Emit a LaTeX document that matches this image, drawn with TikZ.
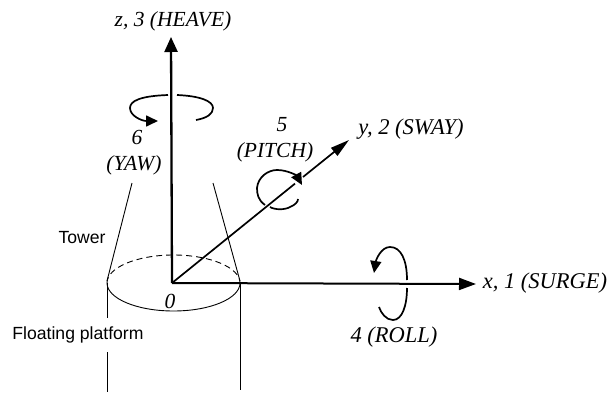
\documentclass[tikz,border=0pt]{standalone}
\usepackage{fontspec}
\setmainfont{Liberation Serif}
\setsansfont{Liberation Sans}
\usetikzlibrary{arrows.meta}
\tikzset{
 zaxis/.style={line width=2.3pt,-{Triangle[length=15pt,width=13pt]}},
 xaxis/.style={line width=2pt,-{Triangle[length=17pt,width=12pt]}},
 yaxis/.style={line width=1.7pt},
 yaxishead/.style={line width=1.7pt,-{Triangle[length=19pt,width=10pt]}},
 thin line/.style={line width=0.9pt},
 rot/.style={line width=1.7pt},
 rothead/.style={line width=1.7pt,-{Triangle[length=12pt,width=11pt]}},
 lab/.style={font=\itshape\fontsize{21.5}{23}\selectfont,inner sep=0pt},
 labw/.style={font=\itshape\fontsize{22.5}{24}\selectfont,inner sep=0pt},
 slab/.style={font=\sffamily\fontsize{17.6}{20}\selectfont,inner sep=0pt}
}
\begin{document}
\begin{tikzpicture}[x=1pt,y=-1pt]
\useasboundingbox (0,0) rectangle (610,393);
\coordinate (O) at (172,283);
\coordinate (zt) at (171,37);
\coordinate (xt) at (476,284);
\coordinate (yt) at (349,140);
\coordinate (g1) at (295,183.6);
\coordinate (g2) at (303,177);
% platform
\draw[thin line] (107,283) arc[start angle=180,end angle=360,x radius=66.5,y radius=-28];
\draw[thin line,dash pattern=on 6pt off 4pt] (107,283) arc[start angle=180,end angle=0,x radius=66.5,y radius=-28];
\coordinate (tl) at (132,183); \coordinate (bl) at (107,281);
\coordinate (tr) at (213,183); \coordinate (br) at (240,281);
\draw[thin line] (tl)--(bl);
\draw[thin line] (tr)--(br);
\draw[thin line] (107,283)--(107,318) (107,352)--(107,392);
\draw[thin line] (240,283)--(240,390);
% axes
\draw[zaxis] (O)--(zt);
\draw[xaxis] (O)--(xt);
\draw[yaxis] (O)--(g1);
\draw[yaxishead] (g2)--(yt);
% yaw
\draw[rothead] (168,95) .. controls (140,96) and (130,101) .. (130,108) .. controls (130,116) and (142,121) .. (158,121);
\draw[rot] (177,95) .. controls (200,96) and (213,101) .. (213,108) .. controls (213,114) and (207,118) .. (196,120);
% pitch
\draw[rothead] (265,205) .. controls (258,200) and (257,194) .. (257,188) .. controls (258,177) and (268,170) .. (277,170) .. controls (288,170) and (297,176) .. (302,185);
\draw[rot] (270,207) .. controls (275,210) and (285,210) .. (290,207) .. controls (295,205) and (298,202) .. (298,199);
% roll
\draw[rothead] (407,280) .. controls (407,260) and (401,247) .. (390,247) .. controls (381,247) and (376,260) .. (374,273);
\draw[rot] (407,288) .. controls (407,306) and (402,320) .. (393,320) .. controls (386,320) and (381,313) .. (379,307);
% labels
\node[lab] (zl) at (173,21) {z, 3 (HEAVE)};
\node[labw] (yl) at (411,129) {y, 2 (SWAY)};
\node[labw] (xl) at (545,283) {x, 1 (SURGE)};
\node[labw] (rl) at (394,337) {4 (ROLL)};
\node[lab] (p1) at (282,125) {5};
\node[lab] (p2) at (275,152) {(PITCH)};
\node[lab] (y1) at (137,137) {6};
\node[lab] (y2) at (134,165) {(YAW)};
\node[lab] (o) at (170,301) {0};
\node[slab] (tw) at (82,238) {Tower};
\node[slab] (fp) at (78,335) {Floating platform};
\end{tikzpicture}
\end{document}
